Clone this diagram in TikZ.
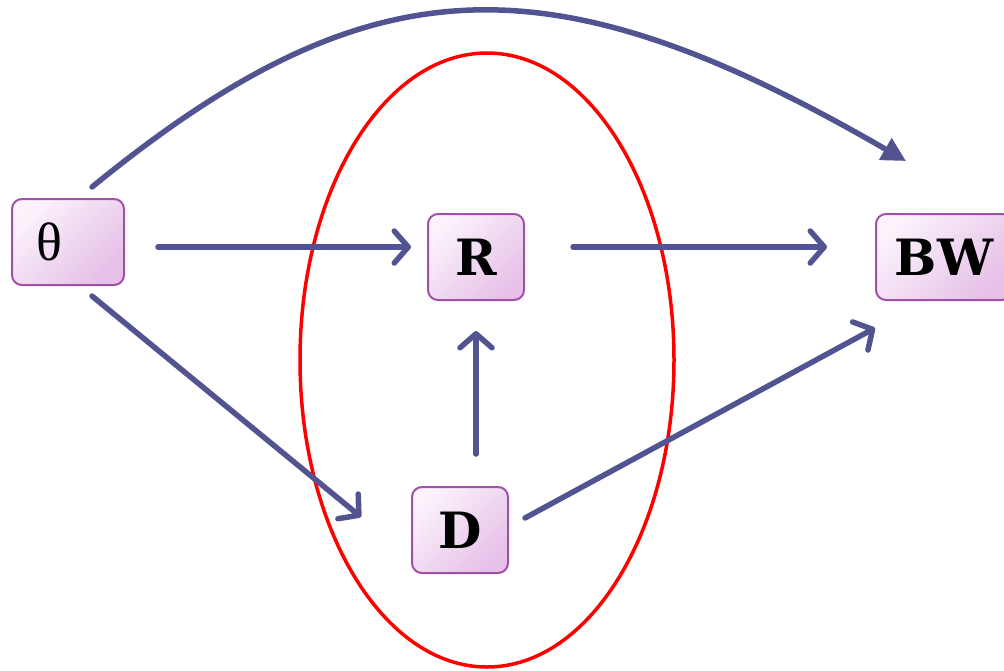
\documentclass[tikz,border=0pt]{standalone}
\usepackage{fontspec}
\setmainfont{Liberation Serif}
\newfontfamily\boxfont{DejaVu Serif}
\usetikzlibrary{arrows.meta,calc}
\definecolor{arrowc}{RGB}{81,84,144}
\definecolor{boxborder}{RGB}{160,80,168}
\definecolor{boxlight}{RGB}{251,242,251}
\definecolor{boxdark}{RGB}{230,192,232}
\tikzset{
  vbox/.style={draw=boxborder, line width=2pt, rounded corners=10pt,
    shading=axis, left color=boxlight, right color=boxdark, shading angle=45,
    minimum height=86pt, inner sep=0pt,
    font=\boxfont\bfseries\fontsize{50}{54}\selectfont},
  conn/.style={draw=arrowc, line width=5.5pt, line cap=round,
    -{Straight Barb[length=14pt,width=32pt,round]}},
  curveconn/.style={draw=arrowc, line width=5.5pt, line cap=round,
    -{Triangle[length=24pt,width=24pt]}},
}
\begin{document}
\begin{tikzpicture}[x=1pt,y=-1pt]
\useasboundingbox (0,0) rectangle (1004,670);
\clip (0,0) rectangle (1004,670);
\draw[red, line width=3.5pt] (487,360) ellipse [x radius=187, y radius=307];
\node[vbox, minimum width=112pt, text width=64pt, inner xsep=24pt, align=left,
  font=\fontsize{54}{56}\selectfont] (th) at (68,242) {θ};
\node[vbox, minimum width=96pt] (R) at (476,257) {R};
\node[vbox, minimum width=136pt] (BW) at (944,257) {BW};
\node[vbox, minimum width=96pt] (D) at (460,530) {D};
\draw[conn] ($(th.east)+(33,5)$) -- ($(R.west)+(-16,-10)$);
\draw[conn] ($(R.east)+(48,-10)$) -- ($(BW.west)+(-48,-10)$);
\draw[conn] ($(th.south)+(24,10)$) -- ($(D.west)+(-50,-13)$);
\draw[conn] ($(D.north)+(16,-32)$) -- ($(R.south)+(0,30)$);
\draw[conn] ($(D.east)+(16,-12)$) -- ($(BW.south west)+(0,27)$);
\draw[curveconn] ($(th.north)+(24,-11)$) .. controls (370,-40) and (550,-45) .. ($(BW.north west)+(31,-52)$);
\end{tikzpicture}
\end{document}
